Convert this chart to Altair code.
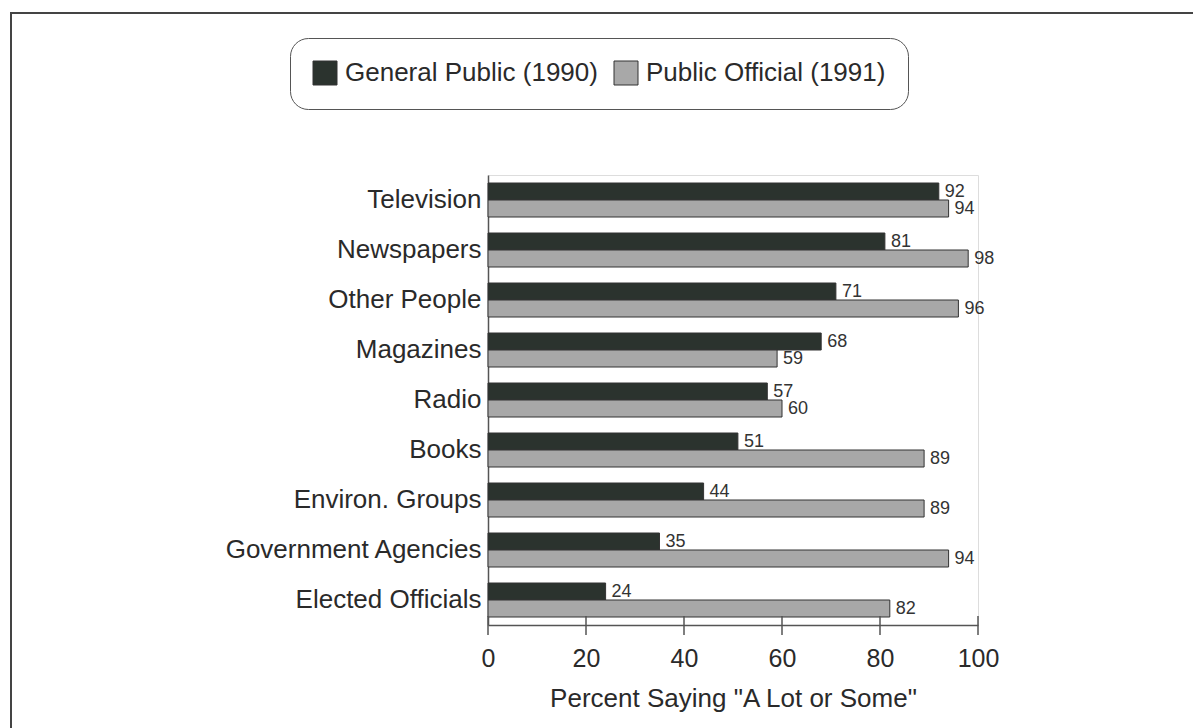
import altair as alt
import pandas as pd

categories = ["Television", "Newspapers", "Other People", "Magazines", "Radio",
              "Books", "Environ. Groups", "Government Agencies", "Elected Officials"]
general_public = [92, 81, 71, 68, 57, 51, 44, 35, 24]
public_official = [94, 98, 96, 59, 60, 89, 89, 94, 82]
series_names = ["General Public (1990)", "Public Official (1991)"]
x_ticks = [0, 20, 40, 60, 80, 100]

rows = []
for c, g, p in zip(categories, general_public, public_official):
    rows.append({"category": c, "series": series_names[0], "value": g})
    rows.append({"category": c, "series": series_names[1], "value": p})
df = pd.DataFrame(rows)

FONT = "Liberation Sans"
TXT = "#2a2a2a"

y_enc = alt.Y("category:N", sort=categories,
              scale=alt.Scale(paddingInner=0.32, paddingOuter=0.16),
              axis=alt.Axis(title=None, ticks=False, labelFontSize=26, labelPadding=7,
                            labelColor=TXT, labelFont=FONT, domainColor="#555",
                            domainWidth=1.5, labelLimit=400))
yoff = alt.YOffset("series:N", sort=series_names, scale=alt.Scale(domain=series_names))
x_enc = alt.X("value:Q", scale=alt.Scale(domain=[0, 100], nice=False),
              axis=alt.Axis(values=x_ticks, ticks=False, grid=False, labelFontSize=25,
                            labelPadding=21, labelColor=TXT, labelFont=FONT,
                            labelFlush=False,
                            domainColor="#555", domainWidth=1.5,
                            title='Percent Saying "A Lot or Some"', titleFontSize=26,
                            titleFontWeight="normal", titleColor=TXT, titleFont=FONT,
                            titlePadding=14))

bars = alt.Chart(df).mark_bar(stroke="#333", strokeWidth=1).encode(
    y=y_enc, yOffset=yoff, x=x_enc,
    color=alt.Color("series:N", sort=series_names,
                    scale=alt.Scale(domain=series_names, range=["#2b332e", "#a8a8a8"]),
                    legend=alt.Legend(title=None, orient="none", direction="horizontal",
                                      legendX=-198, legendY=-137, labelFontSize=26,
                                      labelFont=FONT, labelColor=TXT, labelLimit=600,
                                      symbolType="square", symbolSize=576,
                                      symbolStrokeColor="#333", symbolStrokeWidth=1,
                                      strokeColor="#555", cornerRadius=18, padding=22,
                                      columnPadding=14, labelOffset=7)),
)

labels = alt.Chart(df).mark_text(align="left", baseline="middle", dx=6, fontSize=18,
                                 font=FONT, color="#333").encode(
    y=alt.Y("category:N", sort=categories), yOffset=yoff,
    x=alt.X("value:Q"), text=alt.Text("value:Q"),
)

tick_df = pd.DataFrame({"t": x_ticks})
ticks = alt.Chart(tick_df).mark_rule(color="#555", strokeWidth=1.5).encode(
    x=alt.X("t:Q"), y=alt.value(441), y2=alt.value(460),
)

frame = alt.Chart(alt.Data(values=[{"a": 1}])).mark_rect(
    fill=None, stroke="#444", strokeWidth=2).encode(
    x=alt.value(-477), x2=alt.value(900), y=alt.value(-162), y2=alt.value(700),
)

chart = alt.layer(frame, bars, labels, ticks).properties(
    width=490, height=450,
    autosize=alt.AutoSizeParams(type="none"),
    padding={"left": 488, "top": 175, "right": 215, "bottom": 103},
).configure_view(stroke=None).configure(background="white")

chart.save("out.html", embed_options={"renderer": "svg", "actions": False})
